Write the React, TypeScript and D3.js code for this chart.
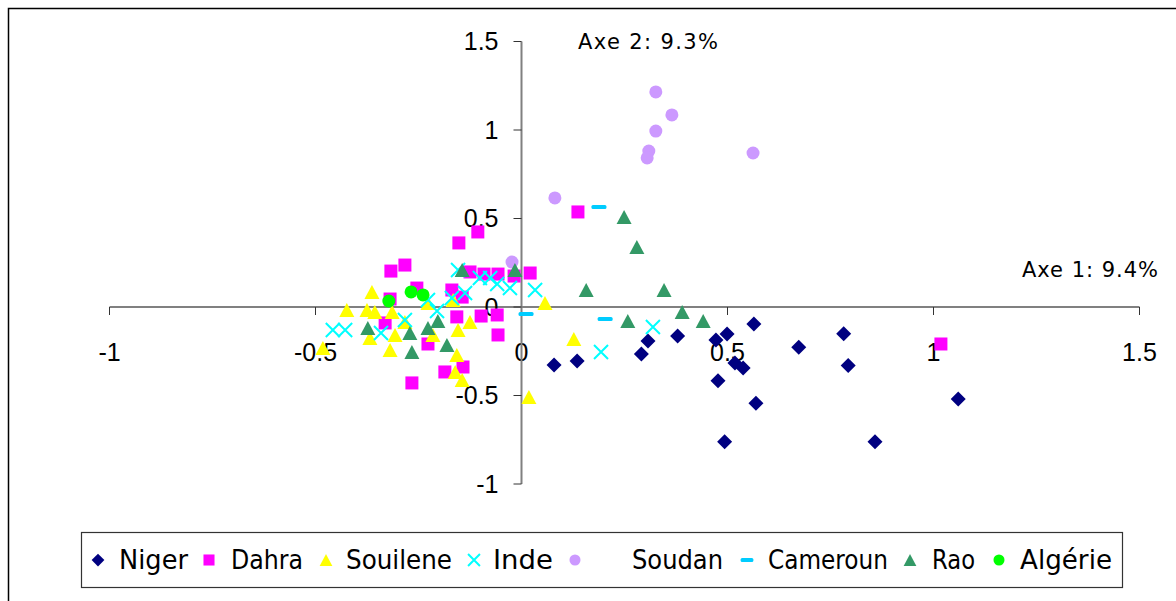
import React from "react";
import * as d3 from "d3";

// ---- Data (x = Axe 1, y = Axe 2) ----
const niger: [number, number][] = [
  [0.079, -0.328], [0.135, -0.305], [0.291, -0.266], [0.307, -0.192], [0.379, -0.164],
  [0.472, -0.186], [0.499, -0.153], [0.564, -0.096], [0.518, -0.316], [0.538, -0.345],
  [0.477, -0.416], [0.569, -0.544], [0.493, -0.761], [0.673, -0.228], [0.782, -0.151],
  [0.793, -0.330], [0.858, -0.761], [1.060, -0.520],
];
const dahra: [number, number][] = [
  [-0.317, 0.203], [-0.283, 0.237], [-0.254, 0.107], [-0.319, 0.045], [-0.331, -0.090],
  [-0.227, -0.209], [-0.266, -0.429], [-0.186, -0.367], [-0.142, -0.339], [-0.169, 0.096],
  [-0.152, 0.362], [-0.106, 0.424], [-0.125, 0.198], [-0.091, 0.186], [-0.057, 0.186],
  [-0.018, 0.175], [0.021, 0.192], [-0.157, -0.056], [-0.098, -0.051], [-0.059, -0.045],
  [-0.057, -0.158], [0.137, 0.537], [1.018, -0.209], [-0.144, 0.056],
];
const souilene: [number, number][] = [
  [-0.482, -0.232], [-0.424, -0.017], [-0.375, -0.017], [-0.356, -0.028], [-0.363, 0.085],
  [-0.368, -0.175], [-0.319, -0.243], [-0.307, -0.158], [-0.314, -0.028], [-0.283, -0.085],
  [-0.227, 0.023], [-0.215, -0.158], [-0.166, 0.040], [-0.154, -0.130], [-0.125, -0.085],
  [-0.157, -0.271], [-0.161, -0.367], [-0.144, -0.412], [0.018, -0.508], [0.057, 0.023],
  [0.127, -0.181],
];
const inde: [number, number][] = [
  [-0.458, -0.130], [-0.428, -0.130], [-0.341, -0.147], [-0.283, -0.073], [-0.227, 0.040],
  [-0.205, -0.023], [-0.169, 0.051], [-0.154, 0.209], [-0.137, 0.079], [-0.101, 0.164],
  [-0.076, 0.164], [-0.059, 0.130], [-0.028, 0.107], [0.033, 0.096], [0.193, -0.254],
  [0.319, -0.113],
];
const soudan: [number, number][] = [
  [0.081, 0.616], [-0.023, 0.254], [0.326, 1.215], [0.365, 1.085], [0.326, 0.994],
  [0.309, 0.881], [0.305, 0.842], [0.562, 0.870],
];
const cameroun: [number, number][] = [
  [0.188, 0.565], [0.203, -0.068], [0.011, -0.040],
];
const rao: [number, number][] = [
  [-0.373, -0.119], [-0.271, -0.147], [-0.266, -0.254], [-0.227, -0.119], [-0.203, -0.079],
  [-0.181, -0.215], [-0.144, 0.209], [-0.016, 0.209], [0.157, 0.096], [0.346, 0.096],
  [0.249, 0.508], [0.280, 0.339], [0.258, -0.079], [0.390, -0.028], [0.441, -0.079],
];
const algerie: [number, number][] = [
  [-0.322, 0.034], [-0.268, 0.085], [-0.239, 0.068],
];

const seriesNames = ["Niger", "Dahra", "Souilene", "Inde", "Soudan", "Cameroun", "Rao", "Algérie"];
const seriesData = [niger, dahra, souilene, inde, soudan, cameroun, rao, algerie];
const seriesShapes = ["diamond", "square", "triangle", "cross", "circle", "dash", "triangle", "circle"];
const seriesColors = ["#000080", "#FF00FF", "#FFFF00", "#00FFFF", "#CC99FF", "#00CCFF", "#339966", "#00FF00"];

const xTicks = [-1, -0.5, 0, 0.5, 1, 1.5];
const yTicks = [-1, -0.5, 0, 0.5, 1, 1.5];
const xTitle = "Axe 1: 9.4%";
const yTitle = "Axe 2: 9.3%";

// ---- Layout ----
const W = 1176;
const H = 601;
const x = d3.scaleLinear().domain([-1, 1.5]).range([109.5, 1139.5]);
const y = d3.scaleLinear().domain([-1, 1.5]).range([484, 41.5]);

const fmt = (v: number) => (v === 0 ? "0" : String(v));

function Marker({ shape, color, cx, cy, s = 1 }: { shape: string; color: string; cx: number; cy: number; s?: number }) {
  switch (shape) {
    case "diamond": {
      const r = 7.5 * s;
      return <path d={`M${cx},${cy - r}L${cx + r},${cy}L${cx},${cy + r}L${cx - r},${cy}Z`} fill={color} />;
    }
    case "square": {
      const h = 6.5 * s;
      return <rect x={cx - h} y={cy - h} width={2 * h} height={2 * h} fill={color} />;
    }
    case "triangle": {
      const hw = 7.5 * s;
      const hh = 7 * s;
      return <path d={`M${cx},${cy - hh}L${cx + hw},${cy + hh}L${cx - hw},${cy + hh}Z`} fill={color} />;
    }
    case "cross": {
      const h = 7 * s;
      return (
        <path
          d={`M${cx - h},${cy - h}L${cx + h},${cy + h}M${cx - h},${cy + h}L${cx + h},${cy - h}`}
          stroke={color}
          strokeWidth={2}
          fill="none"
        />
      );
    }
    case "circle":
      return <circle cx={cx} cy={cy} r={6.5 * s} fill={color} />;
    case "dash": {
      const hw = 7.5 * s;
      return <rect x={cx - hw} y={cy - 2} width={2 * hw} height={4} rx={1.5} fill={color} />;
    }
    default:
      return null;
  }
}

const legendSymbolX = [98, 209, 326, 474, 575, 747, 910, 999];
const legendTextX = [119, 231, 346, 493, 632, 768, 932, 1020];
const legendTextW = [69, 72, 106, 60, 91, 120, 43, 92];

export default function App() {
  const x0 = x(0);
  const y0 = y(0);
  const labelFont = "'Liberation Sans', Arial, sans-serif";
  const comicFont = "'Comic Sans MS', 'DejaVu Sans', sans-serif";
  return (
    <svg
      width={W}
      height={H}
      style={{ position: "absolute", left: 0, top: 0, background: "#fff" }}
    >
      <rect x={0} y={0} width={W} height={H} fill="#fff" />
      {/* outer frame */}
      <rect x={8.5} y={8.5} width={W + 10} height={H + 10} fill="none" stroke="#000" strokeWidth={1.5} />

      {/* x axis */}
      <line x1={x(-1)} x2={x(1.5)} y1={y0} y2={y0} stroke="#808080" strokeWidth={2} />
      {xTicks.map((t) => (
        <g key={"xt" + t}>
          <line x1={x(t)} x2={x(t)} y1={y0} y2={y0 + 8} stroke="#333" strokeWidth={1} />
          <text
            x={x(t)}
            y={y0 + 54}
            textAnchor="middle"
            fontFamily={labelFont}
            fontSize={25}
            fill="#000"
          >
            {fmt(t)}
          </text>
        </g>
      ))}

      {/* y axis */}
      <line x1={x0} x2={x0} y1={y(-1)} y2={y(1.5)} stroke="#808080" strokeWidth={2} />
      {yTicks.map((t) => (
        <g key={"yt" + t}>
          <line x1={x0 - 8} x2={x0} y1={y(t)} y2={y(t)} stroke="#333" strokeWidth={1} />
          <text
            x={x0 - 23}
            y={y(t)}
            dy="0.35em"
            textAnchor="end"
            fontFamily={labelFont}
            fontSize={25}
            fill="#000"
          >
            {fmt(t)}
          </text>
        </g>
      ))}

      {/* axis titles */}
      <text x={578} y={42} dy="0.35em" fontFamily={comicFont} fontSize={21} fill="#000"
        textLength={140} lengthAdjust="spacing">
        {yTitle}
      </text>
      <text x={1022} y={270} dy="0.35em" fontFamily={comicFont} fontSize={21} fill="#000"
        textLength={136} lengthAdjust="spacing">
        {xTitle}
      </text>

      {/* points */}
      {seriesData.map((data, si) => (
        <g key={seriesNames[si]}>
          {data.map((d, i) => (
            <Marker
              key={i}
              shape={seriesShapes[si]}
              color={seriesColors[si]}
              cx={x(d[0])}
              cy={y(d[1])}
            />
          ))}
        </g>
      ))}

      {/* legend */}
      <rect x={81.5} y={532.5} width={1041} height={55} fill="#fff" stroke="#333" strokeWidth={1.2} />
      {seriesNames.map((name, i) => (
        <g key={"lg" + name}>
          <Marker
            shape={seriesShapes[i]}
            color={seriesColors[i]}
            cx={legendSymbolX[i]}
            cy={560}
            s={0.85}
          />
          <text
            x={legendTextX[i]}
            y={560}
            dy="0.35em"
            fontFamily={comicFont}
            fontSize={26}
            fill="#000"
            textLength={legendTextW[i]}
            lengthAdjust="spacingAndGlyphs"
          >
            {name}
          </text>
        </g>
      ))}
    </svg>
  );
}
